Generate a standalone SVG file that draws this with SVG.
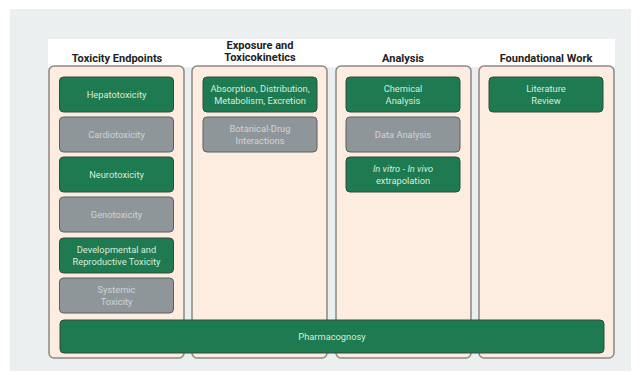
<svg xmlns="http://www.w3.org/2000/svg" width="643" height="375" viewBox="0 0 643 375">
<style>
.hdr{font-family:Roboto,"Liberation Sans",sans-serif;font-weight:bold;font-size:11px;fill:#222;text-anchor:middle}
.col{fill:#fdede0;stroke:#8c8884;stroke-width:1.5}
.g{fill:#1e7a50;stroke:#37493f;stroke-width:1}
.s{fill:#8f969a;stroke:#5a5f62;stroke-width:1}
.tg{font-family:Roboto,"Liberation Sans",sans-serif;font-size:9.3px;fill:#d9ecdc;text-anchor:middle}
.ts{font-family:Roboto,"Liberation Sans",sans-serif;font-size:9.3px;fill:#cfd3d5;text-anchor:middle}
</style>
<rect x="0" y="0" width="643" height="375" fill="#ffffff"/>
<rect x="10" y="9" width="621" height="362" fill="#eceff0"/>
<rect x="48" y="39" width="567" height="28" fill="#ffffff"/>
<g id="headers">
<text class="hdr" x="117" y="62">Toxicity Endpoints</text>
<text class="hdr" x="260" y="49">Exposure and</text>
<text class="hdr" x="260" y="61">Toxicokinetics</text>
<text class="hdr" x="403" y="62">Analysis</text>
<text class="hdr" x="546" y="62">Foundational Work</text>
</g>
<g id="columns">
<rect id="col1" class="col" x="49" y="66" width="135" height="292" rx="5"/>
<rect id="col2" class="col" x="192" y="66" width="135" height="292" rx="5"/>
<rect id="col3" class="col" x="336" y="66" width="135" height="292" rx="5"/>
<rect id="col4" class="col" x="479" y="66" width="135" height="292" rx="5"/>
</g>
<g id="connectors"></g>
<g id="hepatotoxicity"><rect class="g" x="59.5" y="77" width="114" height="35" rx="4"/><text class="tg" x="116.5" y="97.5">Hepatotoxicity</text></g>
<g id="cardiotoxicity"><rect class="s" x="59.5" y="117" width="114" height="35" rx="4"/><text class="ts" x="116.5" y="137.5">Cardiotoxicity</text></g>
<g id="neurotoxicity"><rect class="g" x="59.5" y="157" width="114" height="35" rx="4"/><text class="tg" x="116.5" y="177.5">Neurotoxicity</text></g>
<g id="genotoxicity"><rect class="s" x="59.5" y="197" width="114" height="35" rx="4"/><text class="ts" x="116.5" y="217.5">Genotoxicity</text></g>
<g id="developmental"><rect class="g" x="59.5" y="238" width="114" height="35" rx="4"/><text class="tg" x="116.5" y="253">Developmental and</text><text class="tg" x="116.5" y="264.5">Reproductive Toxicity</text></g>
<g id="systemic"><rect class="s" x="59.5" y="278" width="114" height="35" rx="4"/><text class="ts" x="116.5" y="293">Systemic</text><text class="ts" x="116.5" y="304.5">Toxicity</text></g>
<g id="adme"><rect class="g" x="203" y="77" width="114" height="35" rx="4"/><text class="tg" x="260" y="92">Absorption, Distribution,</text><text class="tg" x="260" y="103.5">Metabolism, Excretion</text></g>
<g id="botanical"><rect class="s" x="203" y="117" width="114" height="35" rx="4"/><text class="ts" x="260" y="132">Botanical-Drug</text><text class="ts" x="260" y="143.5">Interactions</text></g>
<g id="chemical"><rect class="g" x="346" y="77" width="114" height="35" rx="4"/><text class="tg" x="403" y="92">Chemical</text><text class="tg" x="403" y="103.5">Analysis</text></g>
<g id="data"><rect class="s" x="346" y="117" width="114" height="35" rx="4"/><text class="ts" x="403" y="137.5">Data Analysis</text></g>
<g id="ivive"><rect class="g" x="346" y="157" width="114" height="35" rx="4"/><text class="tg" x="403" y="172"><tspan font-style="italic">In vitro</tspan> - <tspan font-style="italic">In vivo</tspan></text><text class="tg" x="403" y="183.5">extrapolation</text></g>
<g id="literature"><rect class="g" x="489" y="77" width="114" height="35" rx="4"/><text class="tg" x="546" y="92">Literature</text><text class="tg" x="546" y="103.5">Review</text></g>
<g id="pharmacognosy"><rect class="g" x="60" y="320" width="544" height="33" rx="4"/><text class="tg" x="332" y="339.5">Pharmacognosy</text></g>
</svg>
